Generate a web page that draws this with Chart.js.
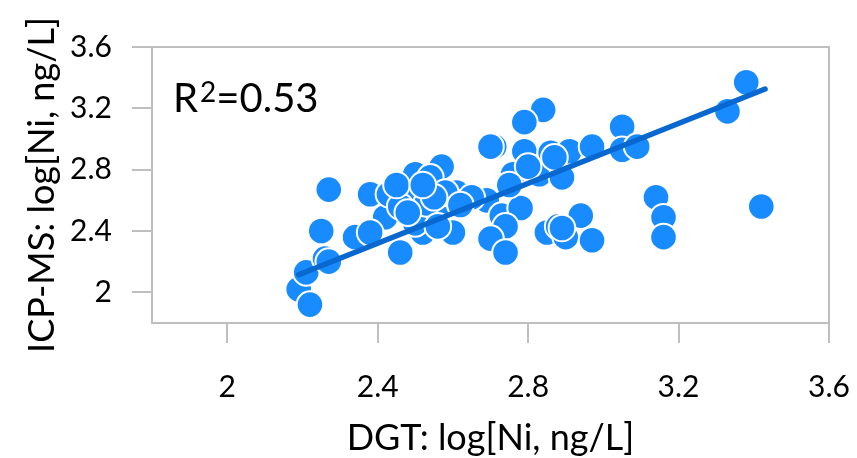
<!DOCTYPE html>
<html>
<head>
<meta charset="utf-8">
<script src="https://cdn.jsdelivr.net/npm/chart.js@4.4.0/dist/chart.umd.min.js"></script>
<style>
  body { margin: 0; background: #fff; }
  canvas { display: block; }
</style>
</head>
<body>
<canvas id="scatter-chart" width="857" height="458"></canvas>
<script>
// Datos (DGT vs ICP-MS, log[Ni, ng/L])
const dgtValues = [
  2.19, 2.22, 2.21, 2.26, 2.27, 2.25, 2.27, 2.34, 2.38, 2.42,
  2.38, 2.46, 2.43, 2.49, 2.50, 2.57, 2.54, 2.56, 2.52, 2.60,
  2.61, 2.62, 2.46, 2.50, 2.53, 2.45, 2.58, 2.69, 2.73, 2.78,
  2.74, 2.70, 2.74, 2.56, 2.85, 2.88, 2.90, 2.94, 2.97, 2.84,
  2.79, 2.71, 2.70, 2.79, 2.86, 2.91, 2.97, 3.05, 3.05, 3.09,
  2.76, 2.83, 2.89, 2.65, 2.62, 3.38, 3.33, 3.14, 3.16, 3.16,
  3.42, 2.55, 2.48, 2.80, 2.87, 2.75, 2.52, 2.89
];
const icpValues = [
  2.02, 1.92, 2.13, 2.22, 2.20, 2.40, 2.67, 2.36, 2.64, 2.49,
  2.39, 2.26, 2.64, 2.65, 2.77, 2.82, 2.75, 2.54, 2.39, 2.39,
  2.65, 2.58, 2.56, 2.45, 2.58, 2.70, 2.65, 2.60, 2.50, 2.55,
  2.43, 2.35, 2.26, 2.43, 2.39, 2.43, 2.36, 2.50, 2.34, 3.19,
  3.11, 2.95, 2.95, 2.92, 2.91, 2.92, 2.95, 3.08, 2.93, 2.95,
  2.77, 2.77, 2.75, 2.62, 2.57, 3.37, 3.18, 2.62, 2.49, 2.36,
  2.56, 2.62, 2.52, 2.82, 2.88, 2.70, 2.70, 2.42
];

// Recta de ajuste
const fitSlope = 0.977;
const fitIntercept = -0.025;
const fitXRange = [2.19, 3.43];
const rSquaredText = "=0.53";

// Ejes
const axisMin = 1.8;
const axisMax = 3.6;
const xTickValues = [2, 2.4, 2.8, 3.2, 3.6];
const yTickValues = [2, 2.4, 2.8, 3.2, 3.6];
const xTitle = "DGT: log[Ni, ng/L]";
const yTitle = "ICP-MS: log[Ni, ng/L]";

const FONT = "Lato";
const FRAME_COLOR = "#bfbfbf";

const scatterData = dgtValues.map((x, i) => ({ x: x, y: icpValues[i] }));
const fitData = fitXRange.map((x) => ({ x: x, y: fitSlope * x + fitIntercept }));

// Marco del área de trazado
const framePlugin = {
  id: "frame",
  beforeDatasetsDraw(chart) {
    const { ctx, chartArea: a } = chart;
    ctx.save();
    ctx.strokeStyle = FRAME_COLOR;
    ctx.lineWidth = 2;
    ctx.strokeRect(a.left, a.top, a.right - a.left, a.bottom - a.top);
    ctx.restore();
  },
};

// Texto R^2
const r2Plugin = {
  id: "r2",
  afterDraw(chart) {
    const ctx = chart.ctx;
    ctx.save();
    ctx.fillStyle = "#000";
    ctx.textBaseline = "alphabetic";
    ctx.textAlign = "left";
    let x = 173;
    ctx.font = `40px ${FONT}`;
    ctx.fillText("R", x, 112);
    x += ctx.measureText("R").width + 2;
    ctx.font = `28px ${FONT}`;
    ctx.fillText("2", x, 102);
    x += ctx.measureText("2").width;
    ctx.font = `40px ${FONT}`;
    ctx.fillText(rSquaredText, x, 112);
    ctx.restore();
  },
};

// Quita el margen extra que Chart.js reserva para las etiquetas extremas
const noSidePadding = (scale) => {
  scale.paddingLeft = 0;
  scale.paddingRight = 0;
  scale.paddingTop = 0;
  scale.paddingBottom = 0;
};

const ctx = document.getElementById("scatter-chart").getContext("2d");

new Chart(ctx, {
  type: "scatter",
  data: {
    datasets: [
      {
        type: "line",
        label: "Ajuste",
        data: fitData,
        borderColor: "#0868CF",
        borderWidth: 5.5,
        borderCapStyle: "round",
        pointRadius: 0,
        fill: false,
        order: 0,
      },
      {
        label: "Datos",
        data: scatterData,
        backgroundColor: "#178BFF",
        borderColor: "#ffffff",
        borderWidth: 2,
        pointRadius: 13.3,
        pointHoverRadius: 13.3,
        order: 1,
      },
    ],
  },
  options: {
    responsive: false,
    animation: false,
    layout: { padding: { top: 47, right: 28, bottom: 0, left: 0 } },
    plugins: {
      legend: { display: false },
      tooltip: { enabled: false },
    },
    scales: {
      x: {
        type: "linear",
        min: axisMin,
        max: axisMax,
        afterBuildTicks: (scale) => {
          scale.ticks = xTickValues.map((v) => ({ value: v }));
        },
        afterFit: (scale) => {
          scale.height = 135;
          noSidePadding(scale);
        },
        grid: {
          drawOnChartArea: false,
          drawTicks: true,
          tickLength: 20,
          color: FRAME_COLOR,
          lineWidth: 2,
        },
        border: { display: false },
        ticks: {
          padding: 26,
          color: "#000",
          font: { family: FONT, size: 30 },
          callback: (v) => String(v),
        },
        title: {
          display: true,
          text: xTitle,
          color: "#000",
          font: { family: FONT, size: 36, lineHeight: 1 },
          padding: { top: 0, bottom: 2 },
        },
      },
      y: {
        type: "linear",
        min: axisMin,
        max: axisMax,
        afterBuildTicks: (scale) => {
          scale.ticks = yTickValues.map((v) => ({ value: v }));
        },
        afterFit: (scale) => {
          scale.width = 152;
          noSidePadding(scale);
        },
        grid: {
          drawOnChartArea: false,
          drawTicks: true,
          tickLength: 20,
          color: FRAME_COLOR,
          lineWidth: 2,
        },
        border: { display: false },
        ticks: {
          padding: 20,
          color: "#000",
          font: { family: FONT, size: 30 },
          callback: (v) => String(v),
        },
        title: {
          display: true,
          text: yTitle,
          color: "#000",
          font: { family: FONT, size: 36, lineHeight: 1 },
          padding: { top: 24, bottom: 0 },
        },
      },
    },
  },
  plugins: [framePlugin, r2Plugin],
});
</script>
</body>
</html>
